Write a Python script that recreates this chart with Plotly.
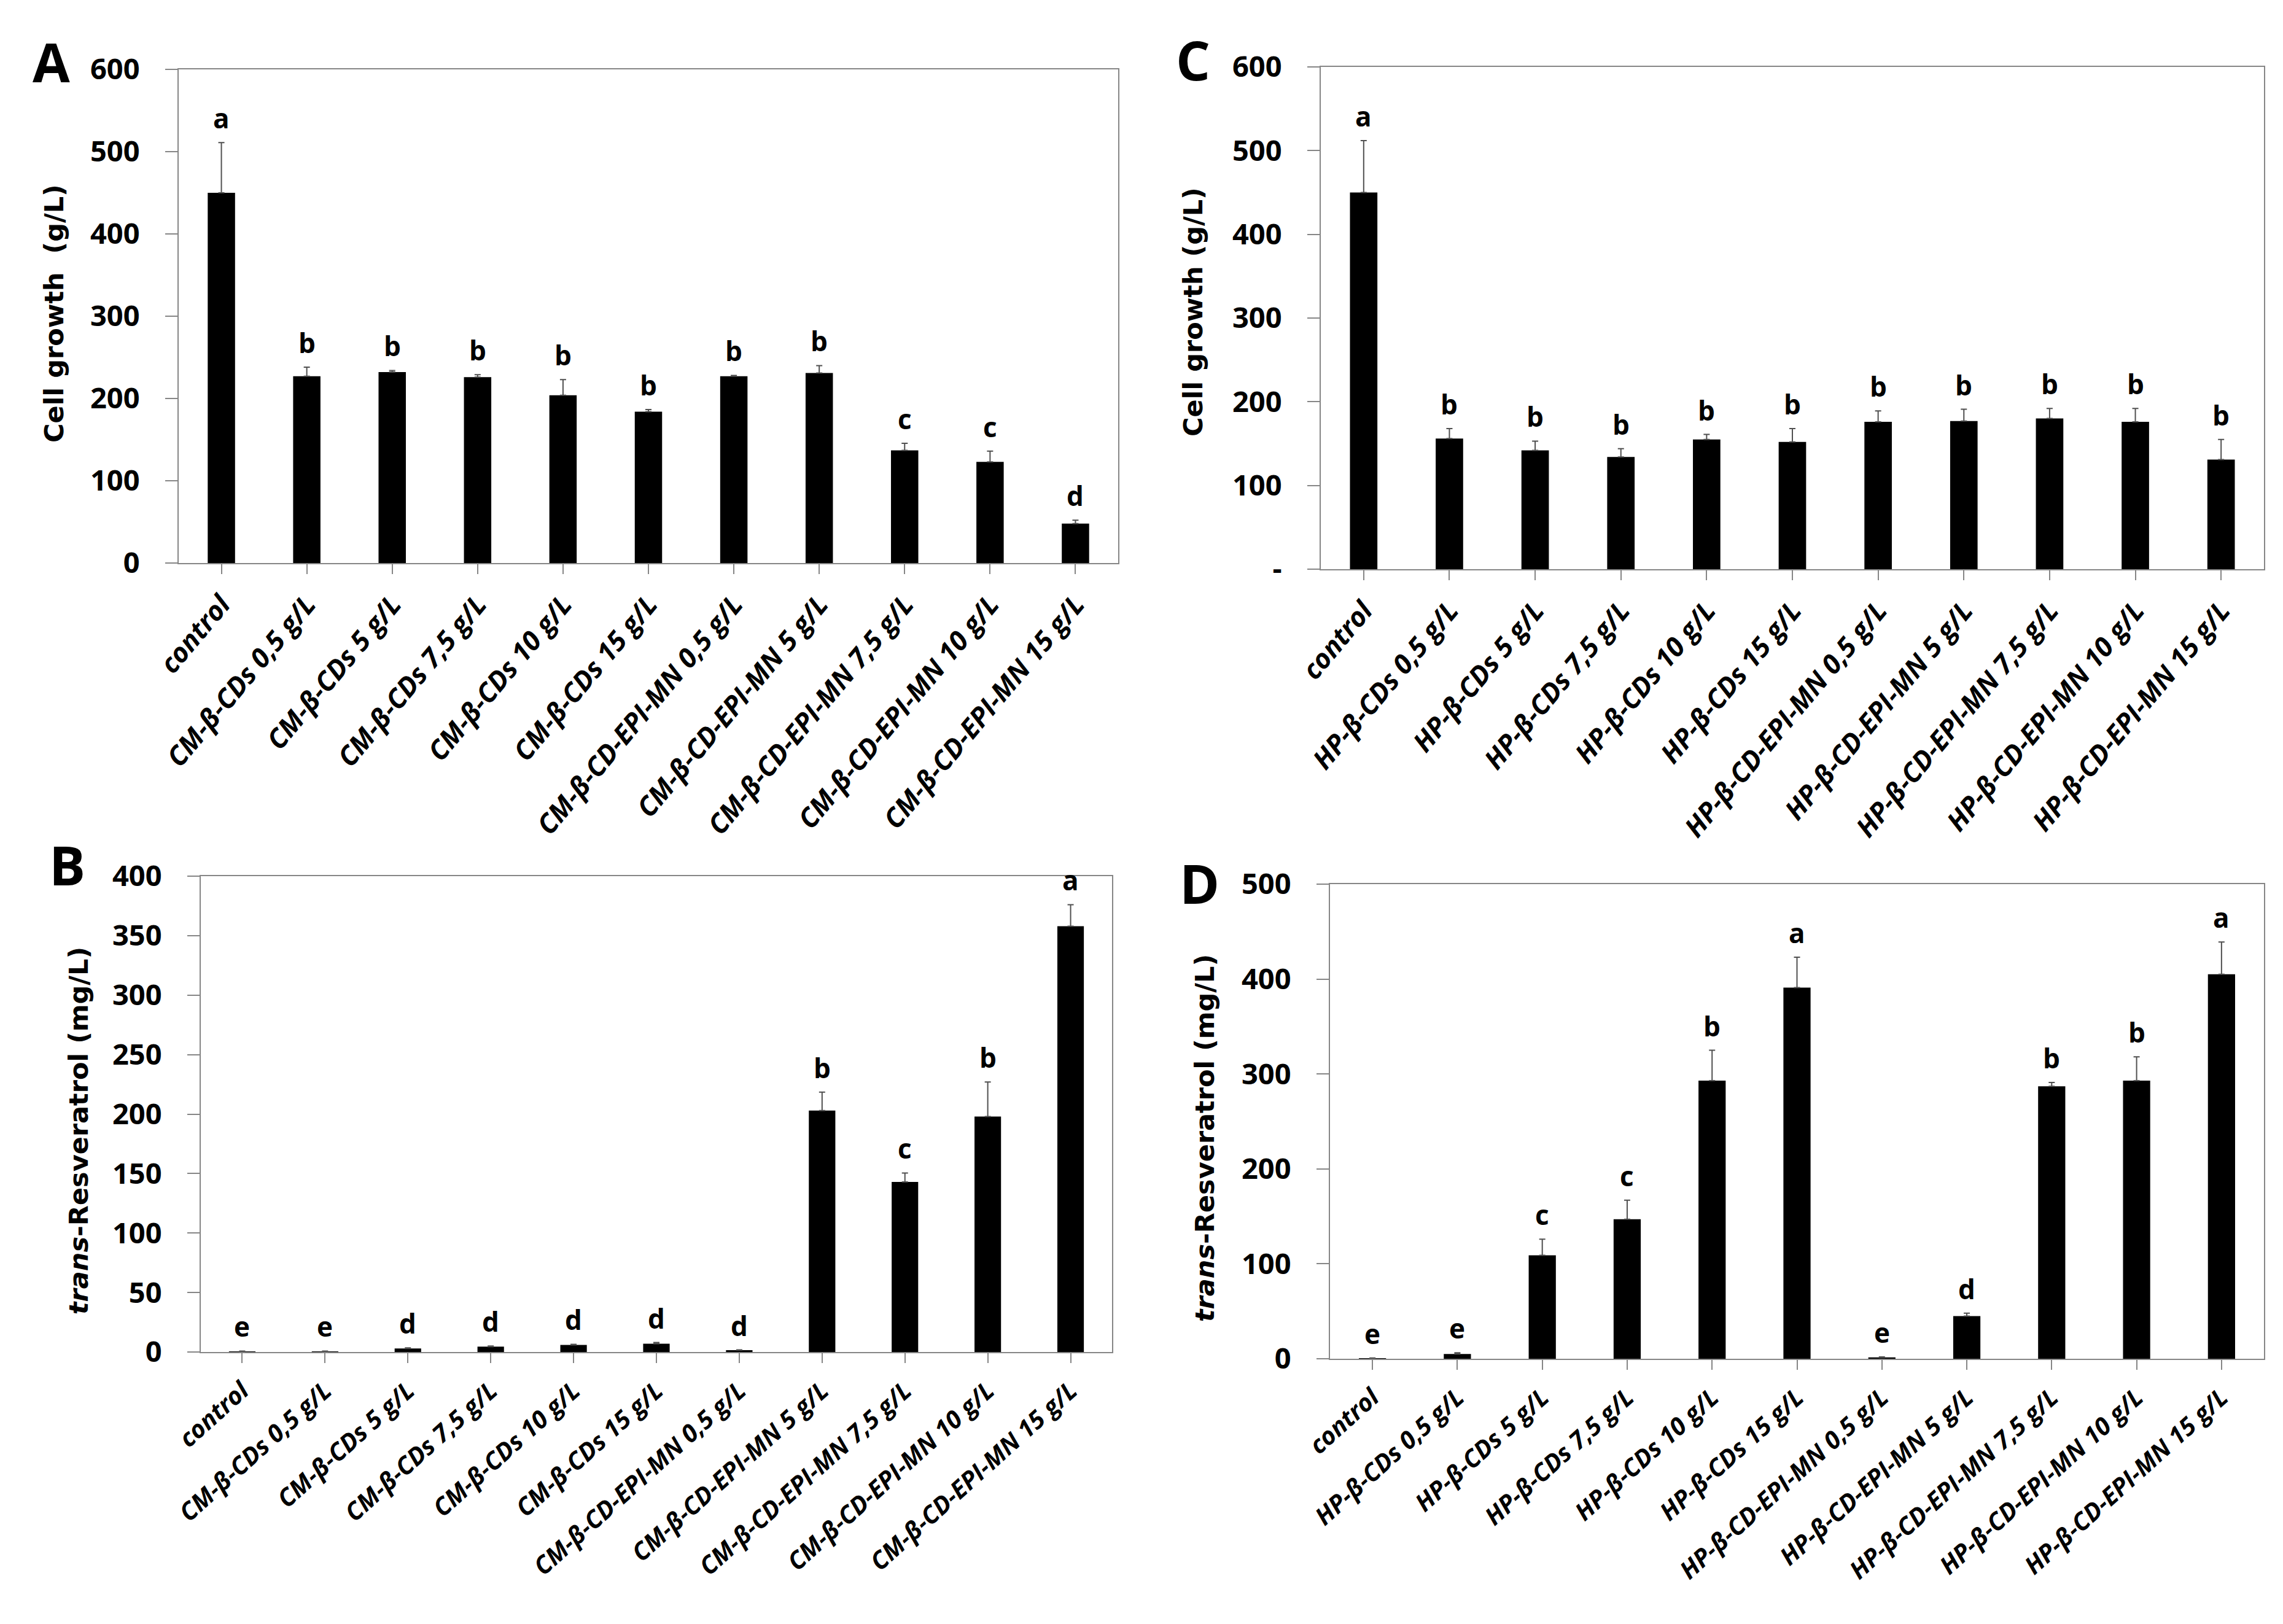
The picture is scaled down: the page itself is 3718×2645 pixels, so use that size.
import plotly.graph_objects as go

# ---------------- data ----------------
cm_labels = ["control", "CM-β-CDs 0,5 g/L", "CM-β-CDs 5 g/L", "CM-β-CDs 7,5 g/L",
             "CM-β-CDs 10 g/L", "CM-β-CDs 15 g/L", "CM-β-CD-EPI-MN 0,5 g/L",
             "CM-β-CD-EPI-MN 5 g/L", "CM-β-CD-EPI-MN 7,5 g/L", "CM-β-CD-EPI-MN 10 g/L",
             "CM-β-CD-EPI-MN 15 g/L"]
hp_labels = ["control", "HP-β-CDs 0,5 g/L", "HP-β-CDs 5 g/L", "HP-β-CDs 7,5 g/L",
             "HP-β-CDs 10 g/L", "HP-β-CDs 15 g/L", "HP-β-CD-EPI-MN 0,5 g/L",
             "HP-β-CD-EPI-MN 5 g/L", "HP-β-CD-EPI-MN 7,5 g/L", "HP-β-CD-EPI-MN 10 g/L",
             "HP-β-CD-EPI-MN 15 g/L"]

growth_cm = [450, 227, 232, 226, 204, 184, 227, 231, 137, 123, 48]
growth_cm_err = [61, 11, 2, 3, 19, 2.5, 1, 9, 8.5, 13, 4]
growth_cm_letters = ["a", "b", "b", "b", "b", "b", "b", "b", "c", "c", "d"]

res_cm = [0.5, 0.5, 3, 4.5, 6, 7, 1.5, 203, 143, 198, 358]
res_cm_err = [0.3, 0.3, 0.5, 0.5, 0.5, 1, 0.3, 15.5, 7.5, 29, 18]
res_cm_letters = ["e", "e", "d", "d", "d", "d", "d", "b", "c", "b", "a"]

growth_hp = [450, 156, 142, 134, 155, 152, 176, 177, 180, 176, 131]
growth_hp_err = [62, 12, 11, 10, 6, 16, 13, 14, 12, 16, 24]
growth_hp_letters = ["a", "b", "b", "b", "b", "b", "b", "b", "b", "b", "b"]

res_hp = [0.5, 5, 109, 147, 293, 391, 1.5, 45, 287, 293, 405]
res_hp_err = [0.3, 1.3, 17, 20, 32, 32, 0.5, 3, 4, 25, 34]
res_hp_letters = ["e", "e", "c", "c", "b", "a", "e", "d", "b", "b", "a"]

growth_ticks = [0, 100, 200, 300, 400, 500, 600]
growth_ticktext_a = ["0", "100", "200", "300", "400", "500", "600"]
growth_ticktext_c = ["-", "100", "200", "300", "400", "500", "600"]
res_cm_ticks = [0, 50, 100, 150, 200, 250, 300, 350, 400]
res_hp_ticks = [0, 100, 200, 300, 400, 500]

# ---------------- styling ----------------
W, H = 3718, 2645
SANS = "Open Sans, sans-serif"
TICK_FONT = dict(family=SANS, size=47, color="black", weight="bold")
LETTER_FONT = dict(family=SANS, size=44, color="black", weight="bold")
TITLE_FONT = dict(family="DejaVu Sans, Verdana, sans-serif", size=43, color="black", weight="bold")
PANEL_FONT = dict(family=SANS, size=88, color="black", weight="bold")
AX_COLOR = "#868686"

panels = [
    dict(ax="", labels=cm_labels, y=growth_cm, e=growth_cm_err, let=growth_cm_letters,
         tv=growth_ticks, tt=growth_ticktext_a, rng=[0, 600], ang=-50, cs=44,
         xd=[283 / W, 1813 / W], yd=[1 - 909 / H, 1 - 105 / H]),
    dict(ax="2", labels=hp_labels, y=growth_hp, e=growth_hp_err, let=growth_hp_letters,
         tv=growth_ticks, tt=growth_ticktext_c, rng=[0, 600], ang=-50, cs=44,
         xd=[2143 / W, 3679 / W], yd=[1 - 919 / H, 1 - 101 / H]),
    dict(ax="3", labels=cm_labels, y=res_cm, e=res_cm_err, let=res_cm_letters,
         tv=res_cm_ticks, tt=[str(v) for v in res_cm_ticks], rng=[0, 400], ang=-42, cs=40,
         xd=[319 / W, 1803 / W], yd=[1 - 2194 / H, 1 - 1419 / H]),
    dict(ax="4", labels=hp_labels, y=res_hp, e=res_hp_err, let=res_hp_letters,
         tv=res_hp_ticks, tt=[str(v) for v in res_hp_ticks], rng=[0, 500], ang=-42, cs=40,
         xd=[2158 / W, 3679 / W], yd=[1 - 2205 / H, 1 - 1432 / H]),
]

fig = go.Figure()
layout = dict(width=W, height=H, margin=dict(l=0, r=0, t=0, b=0),
              paper_bgcolor="white", plot_bgcolor="white", showlegend=False)
annotations = []

for p in panels:
    ax = p["ax"]
    xref = "x" + ax
    yref = "y" + ax
    fig.add_trace(go.Bar(
        x=list(range(len(p["labels"]))), y=p["y"], xaxis=xref, yaxis=yref,
        marker=dict(color="black", line=dict(width=0)), width=0.32,
        error_y=dict(type="data", array=p["e"], arrayminus=[0] * len(p["e"]), symmetric=False,
                     color="#505050", thickness=2, width=5),
    ))
    layout["xaxis" + ax] = dict(
        domain=p["xd"], anchor=yref, range=[-0.5, len(p["labels"]) - 0.5],
        tickmode="array", tickvals=list(range(len(p["labels"]))), ticktext=p["labels"],
        tickangle=p["ang"],
        tickfont=dict(family=SANS, size=p["cs"], color="black", weight="bold", style="italic"),
        ticks="outside", ticklen=16, tickwidth=2, tickcolor=AX_COLOR, ticklabelstandoff=6,
        showline=True, linecolor=AX_COLOR, linewidth=2, mirror=True,
        showgrid=False, zeroline=False, automargin=False, fixedrange=True,
    )
    layout["yaxis" + ax] = dict(
        domain=p["yd"], anchor=xref, range=p["rng"],
        tickmode="array", tickvals=p["tv"], ticktext=p["tt"], tickfont=TICK_FONT,
        ticks="outside", ticklen=20, tickwidth=2, tickcolor=AX_COLOR, ticklabelstandoff=32,
        showline=True, linecolor=AX_COLOR, linewidth=2, mirror=True,
        showgrid=False, zeroline=False, automargin=False, fixedrange=True,
    )
    for i, (v, e, l) in enumerate(zip(p["y"], p["e"], p["let"])):
        annotations.append(dict(x=i, y=v + e, xref=xref, yref=yref, text=l, showarrow=False,
                                font=LETTER_FONT, yanchor="middle", yshift=40))

# y-axis titles
annotations += [
    dict(x=80 / W, y=1 - 503 / H, xref="paper", yref="paper", text="Cell growth  (g/L)",
         textangle=-90, showarrow=False, font=TITLE_FONT, xanchor="center", yanchor="middle"),
    dict(x=1935 / W, y=1 - 500 / H, xref="paper", yref="paper", text="Cell growth (g/L)",
         textangle=-90, showarrow=False, font=TITLE_FONT, xanchor="center", yanchor="middle"),
    dict(x=120 / W, y=1 - 1834 / H, xref="paper", yref="paper",
         text="<i>trans</i>-Resveratrol (mg/L)",
         textangle=-90, showarrow=False, font=TITLE_FONT, xanchor="center", yanchor="middle"),
    dict(x=1954 / W, y=1 - 1845 / H, xref="paper", yref="paper",
         text="<i>trans</i>-Resveratrol (mg/L)",
         textangle=-90, showarrow=False, font=TITLE_FONT, xanchor="center", yanchor="middle"),
]
# panel letters
for txt, px, py in [("A", 75, 92), ("C", 1935, 89), ("B", 101, 1400), ("D", 1945, 1430)]:
    annotations.append(dict(x=px / W, y=1 - py / H, xref="paper", yref="paper", text=txt,
                            showarrow=False, font=PANEL_FONT, xanchor="center", yanchor="middle"))

layout["annotations"] = annotations
fig.update_layout(**layout)
fig.write_html("out.html")
